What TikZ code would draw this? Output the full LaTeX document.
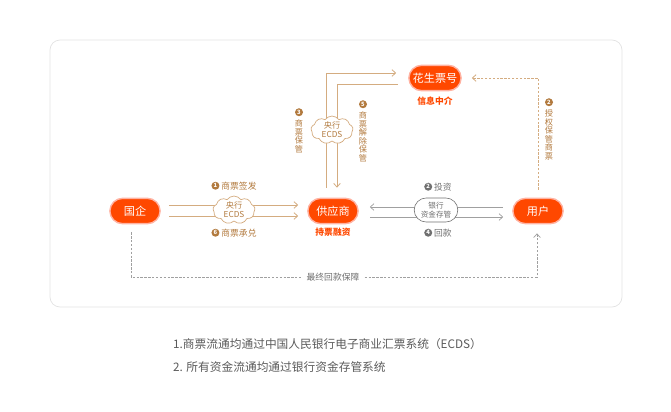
\documentclass[tikz,border=0pt]{standalone}
\usepackage{fontspec}
\setmainfont{Noto Sans CJK SC}
\usepackage{tikz}
\usetikzlibrary{arrows.meta, positioning, shapes.misc, shapes.symbols}
\definecolor{nodered}{RGB}{255,72,0}
\definecolor{glowred}{RGB}{255,178,162}
\definecolor{tanline}{RGB}{212,172,128}
\definecolor{tantext}{RGB}{178,122,62}
\definecolor{grayline}{RGB}{160,160,160}
\definecolor{graytext}{RGB}{112,112,112}
\definecolor{framegray}{RGB}{226,226,226}
\definecolor{notegray}{RGB}{90,90,90}
\newcommand{\stepnum}[2][tantext]{\tikz[baseline=-0.8ex]\node[circle, fill=#1, text=white, inner sep=0pt,
  minimum size=2.4mm, font=\fontsize{5}{5}\selectfont\bfseries]{#2};}
\tikzset{
  party/.style={rounded rectangle, fill=nodered, draw=glowred, line width=1.2pt,
    minimum width=17.4mm, minimum height=7.6mm, text=white, font=\fontsize{9.5}{11}\selectfont},
  tag/.style={text=nodered, inner sep=1pt, font=\fontsize{7.5}{8}\selectfont\bfseries},
  ecds/.style={cloud, cloud puffs=9, cloud puff arc=110, aspect=1.6, draw=tanline, fill=white,
    line width=0.6pt, inner sep=0pt, minimum width=12.6mm, minimum height=8.1mm,
    text=tantext, font=\fontsize{7}{7.8}\selectfont, align=center},
  bank/.style={rounded rectangle, draw=graytext, fill=white, line width=0.5pt, inner sep=1pt,
    minimum width=13.8mm, minimum height=7.2mm, text=graytext,
    font=\fontsize{6.5}{7.5}\selectfont, align=center},
  flow/.style={-{Straight Barb[length=1.1mm,width=2mm]}, tanline, line width=0.7pt},
  cash/.style={-{Straight Barb[length=1.1mm,width=2mm]}, grayline, line width=0.6pt},
  dots/.style={dash pattern=on 2pt off 1.3pt},
  lbl/.style={text=tantext, inner sep=1pt, font=\fontsize{7.5}{8}\selectfont},
  glbl/.style={text=graytext, inner sep=1pt, font=\fontsize{7.5}{8}\selectfont},
  vlbl/.style={text=tantext, inner sep=0pt, align=center, font=\fontsize{7}{7.3}\selectfont},
  note/.style={text=notegray, inner sep=0pt, font=\fontsize{10}{12}\selectfont}
}

\begin{document}
\begin{tikzpicture}[x=0.03cm, y=-0.03cm, node distance=1mm]
  \useasboundingbox (0,0) rectangle (671,411);
  \draw[framegray, line width=0.6pt, rounded corners=3mm] (50,40) rectangle (622,307);

  % parties
  \node[party] (guoqi) at (135,211) {国企};
  \node[party] (gongying) at (333,211) {供应商};
  \node[party] (yonghu) at (538,211) {用户};
  \node[party, minimum width=18mm] (huasheng) at (435,78) {花生票号};
  \node[tag, below=1.2mm of huasheng] (xinxi) {信息中介};
  \node[tag, below=0.8mm of gongying] (chipiao) {持票融资};

  % ECDS between guoqi and gongying
  \draw[flow] ([shift={(8,-6)}]guoqi.east) -- ([shift={(-9,-6)}]gongying.west);
  \draw[flow] ([shift={(8,5)}]guoqi.east) -- ([shift={(-9,5)}]gongying.west);
  \node[ecds] (cloudA) at (234,210) {央行\\ECDS};
  \node[lbl] (s1) at (234,186) {\stepnum{1} 商票签发};
  \node[lbl] (s6) at (234,233) {\stepnum{6} 商票承兑};

  % custody at huasheng
  \draw[flow] ([shift={(-7,-10)}]gongying.north) |- ([shift={(-12,-5)}]huasheng.west);
  \draw[flow] ([shift={(-10,6)}]huasheng.west) -| ([shift={(4,-10)}]gongying.north);
  \node[ecds] (cloudB) at (332,130) {央行\\ECDS};
  \node[vlbl, anchor=north] (s3) at (299,108) {\stepnum{3}\\[2pt]商\\票\\保\\管};
  \node[vlbl, anchor=north] (s5) at (363,100) {\stepnum{5}\\[2pt]商\\票\\解\\除\\保\\管};

  \draw[flow, dots] ([shift={(0,-8)}]yonghu.north) |- ([shift={(10,0)}]huasheng.east);
  \node[vlbl, anchor=north] (s2) at (549,98) {\stepnum{2}\\[2pt]授\\权\\保\\管\\商\\票};

  % money via bank
  \draw[cash] ([shift={(-9,-4)}]yonghu.west) -- ([shift={(11,-4)}]gongying.east);
  \draw[cash] ([shift={(11,6)}]gongying.east) -- ([shift={(-9,6)}]yonghu.west);
  \node[bank] (cunguan) at (436,210) {银行\\资金存管};
  \node[glbl] (s2b) at (438,187) {\stepnum[graytext]{2} 投资};
  \node[glbl] (s4) at (438,233) {\stepnum[graytext]{4} 回款};

  \coordinate (baodi) at (333,277);
  \draw[cash, dots] ([shift={(-4,8)}]guoqi.south) |- (baodi) -| ([shift={(-1,9)}]yonghu.south);
  \node[glbl, fill=white, inner sep=3pt] (huikuan) at (baodi) {最终回款保障};

  % notes
  \node[note, anchor=west] (n1) at (173,344) {1.商票流通均通过中国人民银行电子商业汇票系统（ECDS）};
  \node[note, anchor=west] (n2) at (173,367) {2. 所有资金流通均通过银行资金存管系统};
\end{tikzpicture}
\end{document}
